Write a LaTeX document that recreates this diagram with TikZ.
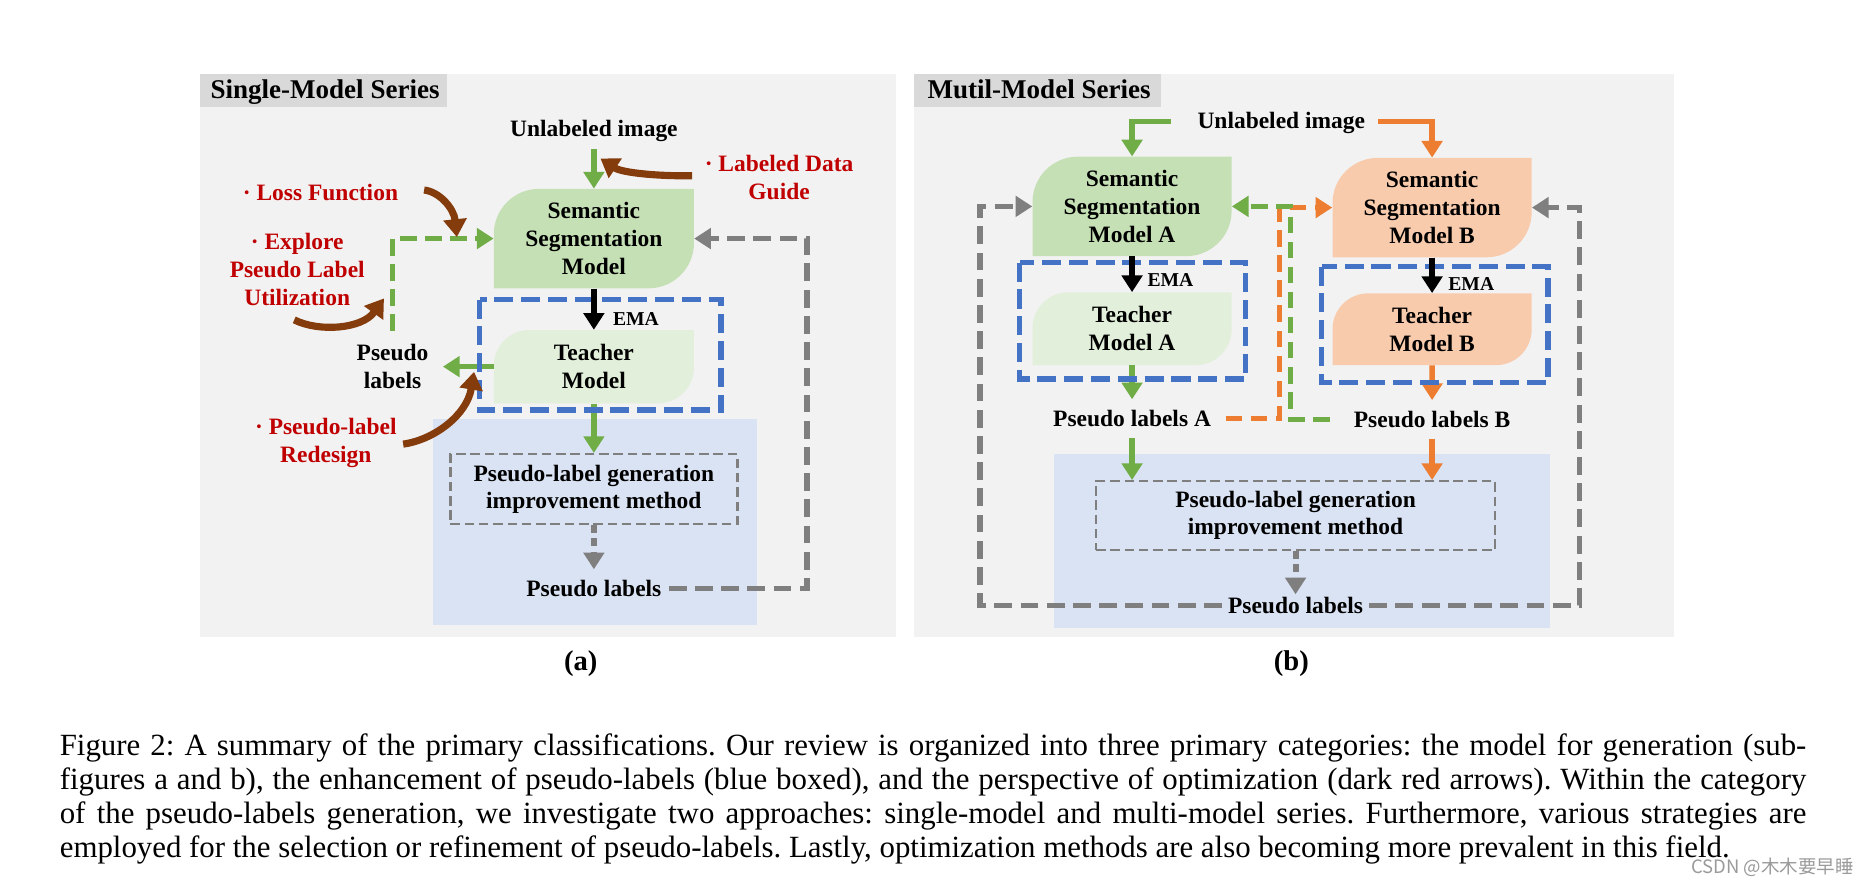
\documentclass[tikz,border=0pt]{standalone}
\usepackage{fontspec}
\setmainfont{Liberation Serif}
\newfontfamily\cjkfont{Noto Sans CJK SC}
\usetikzlibrary{arrows.meta}
\definecolor{panelbg}{HTML}{F2F2F2}
\definecolor{tabbg}{HTML}{D9D9D9}
\definecolor{ssmgreen}{HTML}{C5E0B4}
\definecolor{teachgreen}{HTML}{E2EFDA}
\definecolor{peach}{HTML}{F8CBAD}
\definecolor{lightblue}{HTML}{DAE3F3}
\definecolor{arrgreen}{HTML}{70AD47}
\definecolor{arrorange}{HTML}{ED7D31}
\definecolor{boxblue}{HTML}{4472C4}
\definecolor{arrgray}{HTML}{7F7F7F}
\definecolor{brownarr}{HTML}{843C0C}
\definecolor{labelred}{HTML}{C00000}
\definecolor{wmgray}{HTML}{9A9A9A}
\newcommand\leafbox[8]{%
  \fill[#2] (#3,#6) -- (#3,#4+#7) .. controls (#3,#4+0.448*#7) and (#3+0.448*#7,#4) .. (#3+#7,#4) -- (#5,#4) -- (#5,#6-#7) .. controls (#5,#6-0.448*#7) and (#5-0.448*#7,#6) .. (#5-#7,#6) -- cycle;
  \node[txt, minimum width={(#5)-(#3)}, minimum height={(#6)-(#4)}] (#1) at ({((#3)+(#5))/2},{((#4)+(#6))/2}) {#8};%
}
\frenchspacing
\begin{document}
\begin{tikzpicture}[x=1pt,y=-1pt,
  >={Triangle[length=14pt,width=17pt]},
  txt/.style={font=\fontsize{19.7}{23.7}\selectfont\bfseries, align=center, inner sep=0pt},
  rtxt/.style={txt, text=labelred},
  ematxt/.style={font=\fontsize{16.5}{18}\selectfont\bfseries, inner sep=0pt},
  ttl/.style={font=\fontsize{22.7}{27}\selectfont\bfseries, inner sep=0pt, anchor=base west},
  captxt/.style={font=\fontsize{25.9}{28.5}\selectfont, inner sep=0pt, anchor=base west},
  subcap/.style={font=\fontsize{24}{28}\selectfont\bfseries, inner sep=0pt},
  garrow/.style={draw=arrgreen, line width=4.5pt, ->},
  oarrow/.style={draw=arrorange, line width=4.5pt, ->},
  karrow/.style={draw=black, line width=5pt, ->},
  brarrow/.style={draw=brownarr, line width=6pt, -{Triangle[length=15pt,width=19pt]}},
  gdash/.style={garrow, dash pattern=on 14pt off 7pt},
  odash/.style={oarrow, dash pattern=on 14pt off 7pt},
  gydash/.style={draw=arrgray, line width=4.5pt, dash pattern=on 15pt off 7pt, ->},
  gydot/.style={draw=arrgray, line width=5pt, dash pattern=on 6pt off 5pt, ->},
  bluebox/.style={draw=boxblue, line width=4.5pt, dash pattern=on 16pt off 6.5pt},
  pgbox/.style={txt, draw=arrgray, line width=2pt, dash pattern=on 8pt off 4pt, font=\fontsize{19.7}{22.4}\selectfont\bfseries}
]
\useasboundingbox (0,0) rectangle (1568,744);
\fill[white] (0,0) rectangle (1568,744);
% panels
\fill[panelbg] (167.6,62) rectangle (752.4,534.8);
\fill[panelbg] (767.3,62) rectangle (1405,534.8);
\fill[tabbg] (167.6,62) rectangle (375.4,89.5);
\fill[tabbg] (767.3,62) rectangle (974.6,89.5);
\node[ttl] (ta) at (176.5,82.6) {Single-Model Series};
\node[ttl] (tb) at (778.4,82.6) {Mutil-Model Series};
\fill[lightblue] (363.6,352) rectangle (635.7,524.2);
\fill[lightblue] (884.4,380.7) rectangle (1301.3,527.5);
% ---------- panel a ----------
\leafbox{ssm}{ssmgreen}{414.5}{158.5}{582.5}{242}{38}{Semantic\\Segmentation\\Model}
\leafbox{teach}{teachgreen}{414.5}{277}{582.5}{338.5}{30}{Teacher\\Model}
\node[txt, inner ysep=6pt] (ua) at (498.5,110) {Unlabeled image};
\node[rtxt] (ld) at (654,149) {· Labeled Data\\Guide};
\node[rtxt] (lf) at (269,161.8) {· Loss Function};
\node[rtxt] (ex) at (249.5,226.3) {· Explore\\Pseudo Label\\Utilization};
\node[rtxt] (rd) at (273.5,372) {· Pseudo-label\\Redesign};
\node[txt, inner xsep=12pt, inner ysep=11pt] (pl) at (329.5,307.75) {Pseudo\\labels};
\node[ematxt] (emaa) at (533.8,268) {EMA};
\node[pgbox, minimum width=241pt, minimum height=58.8pt] (pg) at (498.5,410.6) {Pseudo-label generation\\improvement method};
\node[txt, inner xsep=6pt, inner ysep=9pt] (plo) at (498.5,494) {Pseudo labels};
\coordinate (ga) at (677.5,350);
\draw[gydash] (plo.east) -| (ga) |- (ssm.east);
\draw[gdash] (pl.north) |- (ssm.west);
\draw[garrow] (ua.south) -- (ssm.north);
\draw[garrow] (teach.west) -- (pl.east);
\draw[garrow] (teach.south) -- (pg.north);
\draw[gydot] (pg.south) -- (plo.north);
\draw[bluebox] (402.7,251.4) rectangle (605.2,344.3);
\draw[karrow] (ssm.south) -- (teach.north);
\coordinate (ldS) at (581,147.5); \coordinate (ldE) at (504,133);
\draw[brarrow] (ldS) .. controls (552,148) and (522,145) .. (ldE);
\coordinate (lfS) at (356,159.5); \coordinate (lfE) at (383.5,199);
\draw[brarrow] (lfS) .. controls (369,161) and (381,175) .. (lfE);
\coordinate (exS) at (247,268.5); \coordinate (exE) at (322.3,250.5);
\draw[brarrow] (exS) .. controls (268,279) and (304,276) .. (exE);
\coordinate (rdS) at (338.4,372.8); \coordinate (rdE) at (397.9,312.1);
\draw[brarrow] (rdS) .. controls (365,369) and (392,348) .. (rdE);
% ---------- panel b ----------
\leafbox{ssmA}{ssmgreen}{866.7}{131.5}{1033.8}{215}{38}{Semantic\\Segmentation\\Model A}
\leafbox{ssmB}{peach}{1118.5}{132.5}{1285.7}{216}{38}{Semantic\\Segmentation\\Model B}
\leafbox{teachA}{teachgreen}{866.7}{245.4}{1033.8}{306.5}{30}{Teacher\\Model A}
\leafbox{teachB}{peach}{1118.5}{246.2}{1285.7}{306.5}{30}{Teacher\\Model B}
\node[txt] (ub) at (1075.5,103) {Unlabeled image};
\node[ematxt] (emab1) at (982.5,235) {EMA};
\node[ematxt] (emab2) at (1235,238) {EMA};
\node[txt, inner xsep=12pt, inner ysep=9pt] (plA) at (950.25,351.3) {Pseudo labels A};
\node[txt, inner xsep=20pt, inner ysep=9pt] (plB) at (1202.1,352) {Pseudo labels B};
\node[pgbox, minimum width=335pt, minimum height=57.9pt] (pgB) at (1087.5,432.85) {Pseudo-label generation\\improvement method};
\node[txt, inner xsep=5pt, inner ysep=2pt] (plo2) at (1087.5,508) {Pseudo labels};
\coordinate (gbl) at (822.7,300); \coordinate (gbr) at (1326,300);
\draw[gydash] (plo2.west) -| (gbl) |- (ssmA.west);
\draw[gydash] (plo2.east) -| (gbr) |- (ssmB.east);
\coordinate (ox) at (1073.8,250); \coordinate (gx) at (1083.3,250);
\draw[odash] (plA.east) -| (ox) |- (ssmB.west);
\draw[gdash] (plB.west) -| (gx) |- (ssmA.east);
\coordinate (gA0) at (982.7,102.2); \coordinate (oB0) at (1157,102.2);
\draw[garrow] (gA0) -| (ssmA.north);
\draw[oarrow] (oB0) -| (ssmB.north);
\draw[garrow] (teachA.south) -- (plA.north);
\draw[garrow] (plA.south) -- (plA.south |- pgB.north);
\draw[oarrow] (teachB.south) -- (plB.north);
\draw[oarrow] (plB.south) -- (plB.south |- pgB.north);
\draw[gydot] (pgB.south) -- (plo2.north);
\draw[bluebox] (855.8,220.5) rectangle (1045.7,318);
\draw[bluebox] (1109.3,223.8) rectangle (1299.5,321.3);
\draw[karrow] (ssmA.south) -- (teachA.north);
\draw[karrow] (ssmB.south) -- (teachB.north);
% sub captions
\node[subcap] (sa) at (487.5,557) {(a)};
\node[subcap] (sb) at (1084,557) {(b)};
% caption
\node[captxt] (c1) at (50,634) {\makebox[1466pt][s]{Figure 2: A summary of the primary classifications. Our review is organized into three primary categories: the model for generation (sub-}};
\node[captxt] (c2) at (50,662.5) {\makebox[1466pt][s]{figures a and b), the enhancement of pseudo-labels (blue boxed), and the perspective of optimization (dark red arrows). Within the category}};
\node[captxt] (c3) at (50,691) {\makebox[1466pt][s]{of the pseudo-labels generation, we investigate two approaches: single-model and multi-model series. Furthermore, various strategies are}};
\node[captxt] (c4) at (50,719.5) {employed for the selection or refinement of pseudo-labels. Lastly, optimization methods are also becoming more prevalent in this field.};
\node[font=\cjkfont\fontsize{15.5}{16}\selectfont, text=wmgray, inner sep=0pt, anchor=base east] (wm) at (1556,733.5) {CSDN @木木要早睡};
\end{tikzpicture}
\end{document}
